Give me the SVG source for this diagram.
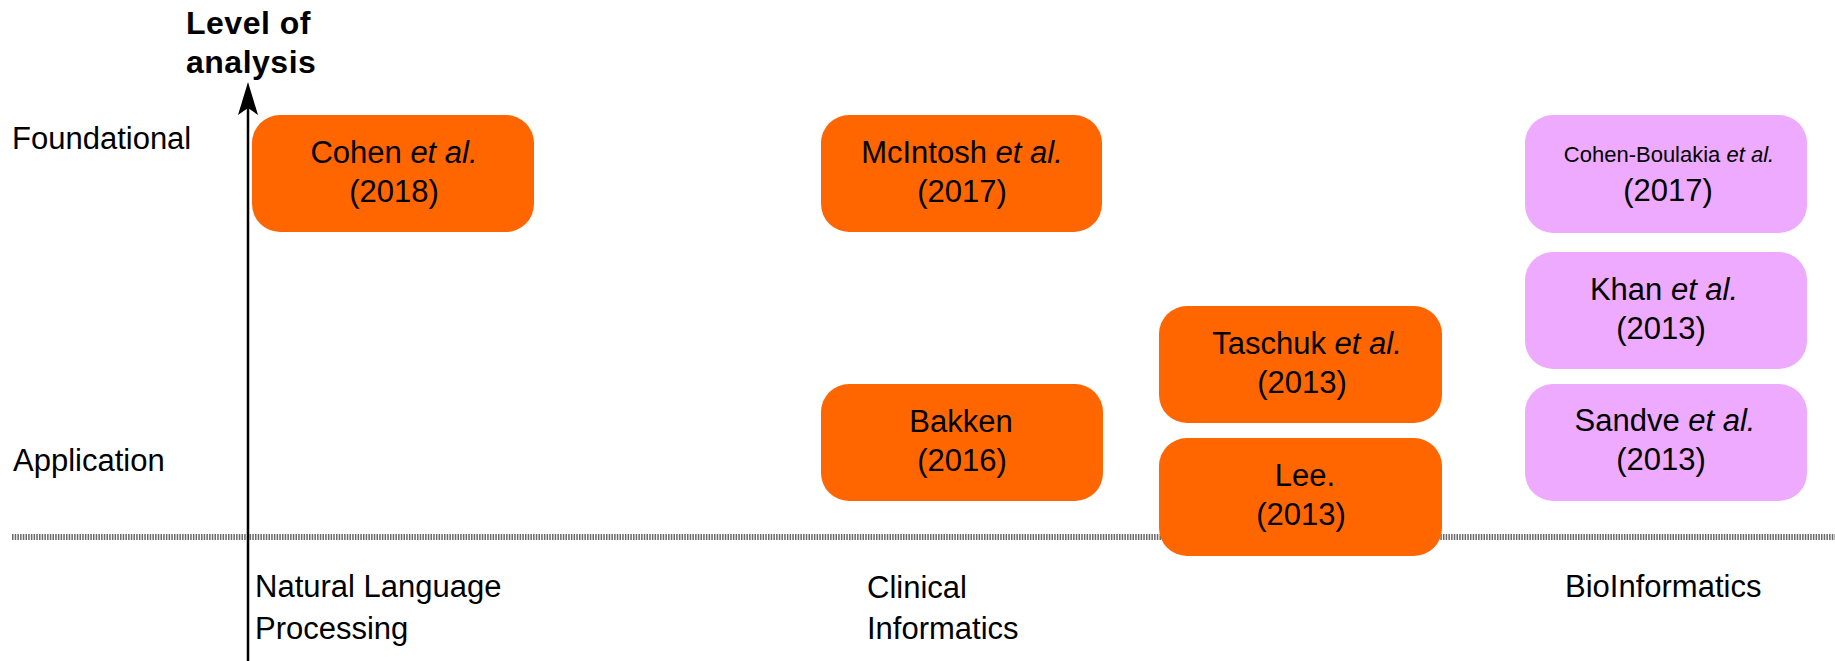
<svg xmlns="http://www.w3.org/2000/svg" width="1835" height="661" viewBox="0 0 1835 661">
<style>
text{font-family:"Liberation Sans",Arial,sans-serif;fill:#000}
.t{font-size:31px}
.c{font-size:31px;text-anchor:middle}
.s{font-size:22px;text-anchor:middle}
.b{font-size:32px;font-weight:bold;letter-spacing:0.5px}
.o{fill:#FF6600}
.p{fill:#EEAAFF}
</style>
<rect width="1835" height="661" fill="#fff"/>
<g id="axes">
<line x1="12" y1="537" x2="1835" y2="537" stroke="#6a6a6a" stroke-width="6" stroke-dasharray="1.5 1.2"/>
<line x1="248" y1="100" x2="248" y2="661" stroke="#000" stroke-width="2.5"/>
<path d="M248,82 L258,115 L248,108 L238,115 Z" fill="#000"/>
</g>
<g id="labels">
<text class="b" x="186" y="34">Level of</text>
<text class="b" x="186" y="73">analysis</text>
<text class="t" x="12" y="149">Foundational</text>
<text class="t" x="13" y="471">Application</text>
<text class="t" x="255" y="597">Natural Language</text>
<text class="t" x="255" y="639">Processing</text>
<text class="t" x="867" y="598">Clinical</text>
<text class="t" x="867" y="639">Informatics</text>
<text class="t" x="1565" y="597">BioInformatics</text>
</g>
<g id="cohen">
<rect class="o" x="252" y="115" width="282" height="117" rx="28"/>
<text class="c" x="394" y="163">Cohen <tspan font-style="italic">et al.</tspan></text>
<text class="c" x="394" y="202">(2018)</text>
</g>
<g id="mcintosh">
<rect class="o" x="821" y="115" width="281" height="117" rx="28"/>
<text class="c" x="962" y="163">McIntosh <tspan font-style="italic">et al.</tspan></text>
<text class="c" x="962" y="202">(2017)</text>
</g>
<g id="bakken">
<rect class="o" x="821" y="384" width="282" height="117" rx="28"/>
<text class="c" x="961" y="432">Bakken</text>
<text class="c" x="962" y="471">(2016)</text>
</g>
<g id="taschuk">
<rect class="o" x="1159" y="306" width="283" height="117" rx="28"/>
<text class="c" x="1307" y="354">Taschuk <tspan font-style="italic">et al.</tspan></text>
<text class="c" x="1302" y="393">(2013)</text>
</g>
<g id="lee">
<rect class="o" x="1159" y="438" width="283" height="118" rx="28"/>
<text class="c" x="1305" y="486">Lee.</text>
<text class="c" x="1301" y="525">(2013)</text>
</g>
<g id="cohen-boulakia">
<rect class="p" x="1525" y="115" width="282" height="118" rx="28"/>
<text class="s" x="1669" y="162">Cohen-Boulakia <tspan font-style="italic">et al.</tspan></text>
<text class="c" x="1668" y="201">(2017)</text>
</g>
<g id="khan">
<rect class="p" x="1525" y="252" width="282" height="117" rx="28"/>
<text class="c" x="1664" y="300">Khan <tspan font-style="italic">et al.</tspan></text>
<text class="c" x="1661" y="339">(2013)</text>
</g>
<g id="sandve">
<rect class="p" x="1525" y="384" width="282" height="117" rx="28"/>
<text class="c" x="1665" y="431">Sandve <tspan font-style="italic">et al.</tspan></text>
<text class="c" x="1661" y="470">(2013)</text>
</g>
</svg>
